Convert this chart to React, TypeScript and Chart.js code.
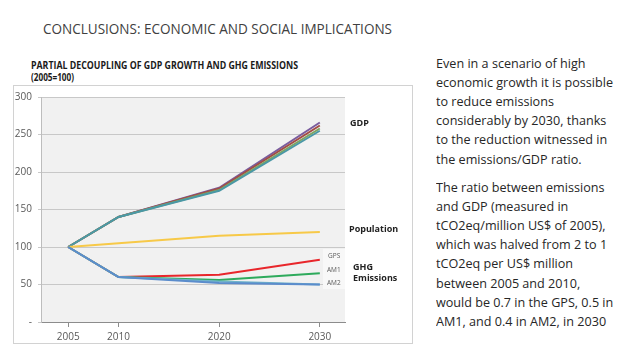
import React, { useEffect, useRef } from "react";
import { Chart, registerables } from "chart.js";

Chart.register(...registerables);

// ---- data ----
const years = [2005, 2010, 2020, 2030];
const yTicks = [0, 50, 100, 150, 200, 250, 300];
const gdpPurple = [100, 140, 179, 266];
const gdpRed = [100, 140, 178, 262];
const gdpGreen = [100, 140, 176, 258];
const gdpTeal = [100, 140, 175, 255];
const population = [100, 105, 115, 120];
const gps = [100, 60, 63, 83];
const am1 = [100, 60, 56, 65];
const am1Alt = [100, 60, 54, 50];
const am2 = [100, 60, 52, 50];

const paragraph1 = [
  "Even in a scenario of high",
  "economic growth it is possible",
  "to reduce emissions",
  "considerably by 2030, thanks",
  "to the reduction witnessed in",
  "the emissions/GDP ratio.",
];
const paragraph2 = [
  "The ratio between emissions",
  "and GDP (measured in",
  "tCO2eq/million US$ of 2005),",
  "which was halved from 2 to 1",
  "tCO2eq per US$ million",
  "between 2005 and 2010,",
  "would be 0.7 in the GPS, 0.5 in",
  "AM1, and 0.4 in AM2, in 2030",
];

function measure(text: string, font: string): number {
  const c = document.createElement("canvas").getContext("2d")!;
  c.font = font;
  return c.measureText(text).width;
}

function FitText(props: {
  lines: string[];
  refLine: string;
  target: number;
  left: number;
  top: number;
  font: string;
  lineHeight: number;
  color: string;
}) {
  const { lines, refLine, target, left, top, font, lineHeight, color } = props;
  const w = measure(refLine, font);
  const s = w > 0 ? target / w : 1;
  return (
    <div
      style={{
        position: "absolute",
        left,
        top,
        font,
        lineHeight: lineHeight + "px",
        color,
        whiteSpace: "pre",
        transform: `scaleX(${s})`,
        transformOrigin: "0 0",
      }}
    >
      {lines.map((l, i) => (
        <div key={i}>{l}</div>
      ))}
    </div>
  );
}

const pts = (arr: number[]) => years.map((x, i) => ({ x, y: arr[i] }));

export default function App() {
  const ref = useRef<HTMLCanvasElement>(null);

  useEffect(() => {
    if (!ref.current) return;
    const bgPlugin = {
      id: "plotBg",
      beforeDraw(chart: any) {
        const { ctx, chartArea: a } = chart;
        ctx.save();
        ctx.fillStyle = "#f1f1f1";
        ctx.fillRect(a.left, a.top, a.right - a.left, a.bottom - a.top);
        ctx.restore();
      },
    };
    const labelPlugin = {
      id: "sideLabels",
      afterDraw(chart: any) {
        const { ctx } = chart;
        const ox = 13;
        const oy = 85;
        ctx.save();
        ctx.fillStyle = "#f8f8f8";
        ctx.fillRect(323 - ox, 249 - oy, 22, 40);
        ctx.textBaseline = "middle";
        ctx.textAlign = "left";
        ctx.fillStyle = "#222";
        ctx.font = 'bold 9px "Open Sans"';
        ctx.fillText("GDP", 350 - ox, 123 - oy);
        ctx.fillText("Population", 349 - ox, 229 - oy);
        ctx.fillText("GHG", 353 - ox, 267 - oy);
        ctx.fillText("Emissions", 353 - ox, 278 - oy);
        ctx.fillStyle = "#595959";
        ctx.font = '6.5px "Open Sans"';
        ctx.fillText("GPS", 328 - ox, 256 - oy);
        ctx.fillText("AM1", 327 - ox, 270 - oy);
        ctx.fillText("AM2", 327 - ox, 283 - oy);
        ctx.restore();
      },
    };
    const ds = (data: number[], color: string) => ({
      data: pts(data),
      borderColor: color,
      backgroundColor: color,
      borderWidth: 2,
      pointRadius: 0,
      tension: 0,
      fill: false,
    });
    const chart = new Chart(ref.current, {
      type: "line",
      data: {
        datasets: [
          ds(am2, "#5b8ccc"),
          ds(am1Alt, "#6fb3c9"),
          ds(am1, "#2eaa5c"),
          ds(gps, "#e8262b"),
          ds(population, "#f7c948"),
          ds(gdpTeal, "#4a98a6"),
          ds(gdpGreen, "#7fa560"),
          ds(gdpRed, "#a24d45"),
          ds(gdpPurple, "#7a5c9e"),
        ],
      },
      options: {
        animation: false,
        responsive: false,
        devicePixelRatio: 1,
        layout: { padding: { top: 8, right: 68, left: 0, bottom: 0 } },
        plugins: { legend: { display: false }, tooltip: { enabled: false } },
        scales: {
          x: {
            type: "linear",
            min: 2002.3,
            max: 2032.5,
            afterBuildTicks: (s: any) => {
              s.ticks = years.map((v) => ({ value: v }));
            },
            afterFit: (s: any) => {
              s.height = 22;
            },
            ticks: {
              callback: (v: any) => String(v),
              color: "#595959",
              font: { family: "Open Sans", size: 10 },
              padding: 4,
              maxRotation: 0,
              autoSkip: false,
            },
            grid: { drawOnChartArea: false, tickLength: 5, color: "#8c8c8c" },
            border: { color: "#8c8c8c" },
          },
          y: {
            min: 0,
            max: 300,
            afterBuildTicks: (s: any) => {
              s.ticks = yTicks.map((v) => ({ value: v }));
            },
            afterFit: (s: any) => {
              s.width = 28;
            },
            ticks: {
              callback: (v: any) => (v === 0 ? "-" : String(v)),
              color: "#595959",
              font: { family: "Open Sans", size: 10 },
              padding: 6,
            },
            grid: { color: "#c8c8c8", tickLength: 3 },
            border: { color: "#bdbdbd" },
          },
        },
      },
      plugins: [bgPlugin, labelPlugin],
    } as any);
    return () => chart.destroy();
  }, []);

  return (
    <div
      style={{
        position: "fixed",
        left: 0,
        top: 0,
        width: 638,
        height: 359,
        background: "#fff",
        overflow: "hidden",
        fontFamily: '"Open Sans", sans-serif',
      }}
    >
      <FitText
        lines={["CONCLUSIONS: ECONOMIC AND SOCIAL IMPLICATIONS"]}
        refLine="CONCLUSIONS: ECONOMIC AND SOCIAL IMPLICATIONS"
        target={349}
        left={43}
        top={18}
        font='15px "Open Sans"'
        lineHeight={20}
        color="#404040"
      />
      <FitText
        lines={["PARTIAL DECOUPLING OF GDP GROWTH AND GHG EMISSIONS"]}
        refLine="PARTIAL DECOUPLING OF GDP GROWTH AND GHG EMISSIONS"
        target={267}
        left={31}
        top={59}
        font='bold 10px "Open Sans"'
        lineHeight={13}
        color="#1a1a1a"
      />
      <FitText
        lines={["(2005=100)"]}
        refLine="(2005=100)"
        target={43}
        left={31}
        top={70.5}
        font='bold 10px "Open Sans"'
        lineHeight={13}
        color="#1a1a1a"
      />
      <div
        style={{
          position: "absolute",
          left: 13,
          top: 85,
          width: 400,
          height: 259,
          boxSizing: "border-box",
          border: "1px solid #d2d2d2",
          background: "#fff",
        }}
      />
      <canvas
        ref={ref}
        width={400}
        height={259}
        style={{ position: "absolute", left: 13, top: 85, width: 400, height: 259 }}
      />
      <FitText
        lines={paragraph1}
        refLine="economic growth it is possible"
        target={177}
        left={436}
        top={53.5}
        font='12px "Open Sans"'
        lineHeight={19.2}
        color="#262626"
      />
      <FitText
        lines={paragraph2}
        refLine="economic growth it is possible"
        target={177}
        left={436}
        top={177.5}
        font='12px "Open Sans"'
        lineHeight={19.2}
        color="#262626"
      />
    </div>
  );
}
